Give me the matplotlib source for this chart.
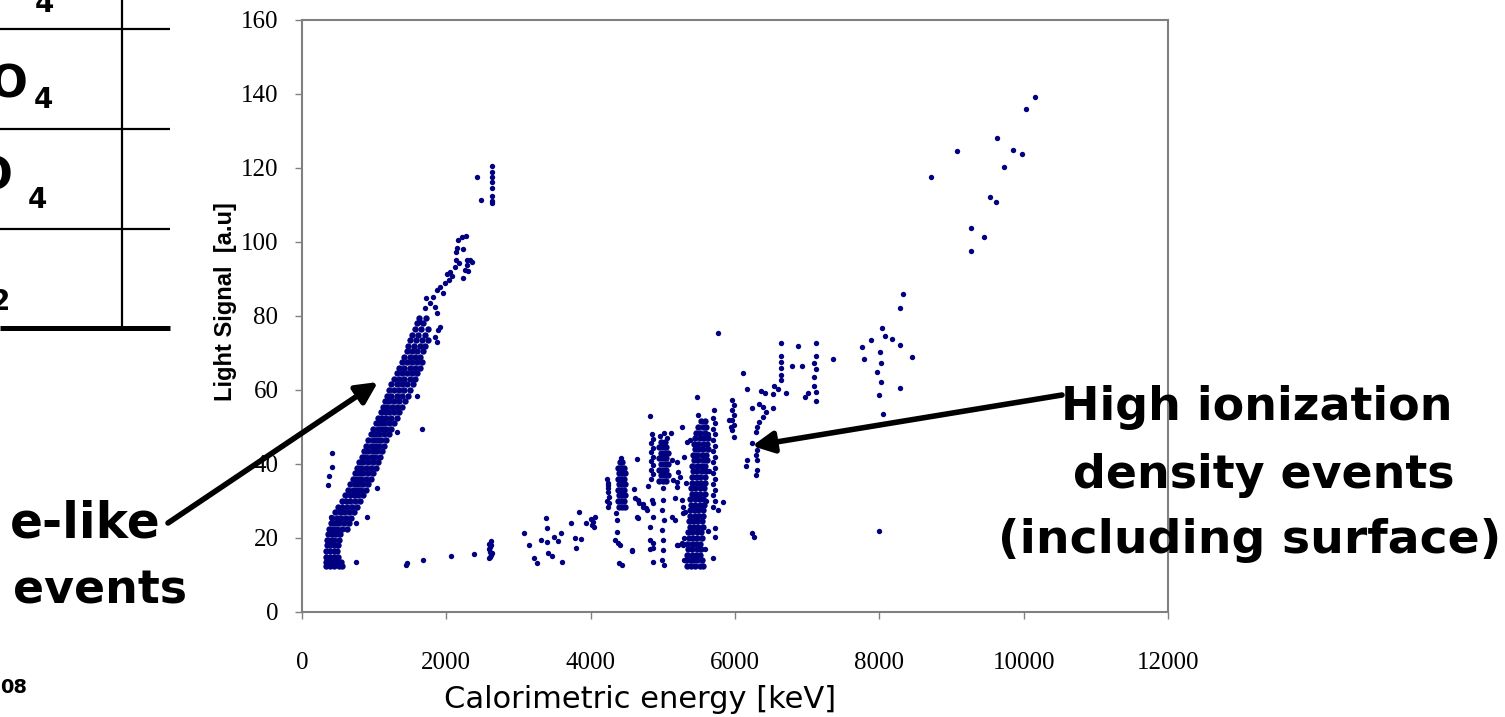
import matplotlib
matplotlib.use("Agg")
import matplotlib.pyplot as plt

# ---------------- data ----------------
x_ticks = [0, 2000, 4000, 6000, 8000, 10000, 12000]
y_ticks = [0, 20, 40, 60, 80, 100, 120, 140, 160]

# dense e-like band: light signal row -> energies
elike_rows_y = [12.5, 13.5, 15, 16.5, 18, 19.5, 21, 22.5, 24, 25.5, 27, 28.5, 30,
                31.5, 33, 34.5, 36, 37.5, 39, 40.5, 42, 43.5, 45, 46.5, 48, 49.5,
                51, 52.5, 54, 55.5, 57, 58.5, 60, 61.5, 63, 64.5, 66, 67.5, 69,
                70.5, 72, 73.5, 75, 76.5, 78, 79.5]
elike_rows_x = [
    [330, 390, 450, 510, 560], [330, 380, 430, 480, 540], [335, 385, 440, 500],
    [335, 385, 440, 490], [340, 390, 445, 500], [345, 395, 450, 510],
    [355, 410, 465, 530], [370, 430, 490, 560, 620], [395, 455, 515, 580, 650],
    [420, 480, 545, 610, 680], [460, 520, 585, 650, 720], [500, 560, 625, 690, 760],
    [550, 610, 670, 735, 800], [600, 660, 720, 780, 850], [640, 700, 760, 820, 890],
    [670, 730, 790, 850, 920], [700, 760, 820, 880, 950], [730, 790, 850, 915, 990],
    [760, 820, 880, 950, 1020], [790, 850, 910, 980, 1050], [830, 890, 950, 1010, 1080],
    [860, 920, 980, 1040, 1110], [890, 950, 1010, 1070, 1140], [920, 980, 1040, 1100, 1170],
    [950, 1010, 1070, 1130, 1200], [990, 1050, 1110, 1170, 1240], [1020, 1080, 1140, 1200, 1270],
    [1050, 1110, 1170, 1240, 1310], [1090, 1150, 1210, 1280, 1350], [1120, 1180, 1250, 1320, 1390],
    [1150, 1210, 1280, 1350, 1430], [1180, 1240, 1310, 1390, 1470], [1210, 1280, 1350, 1420, 1500],
    [1240, 1310, 1380, 1450, 1540], [1280, 1350, 1420, 1490, 1570], [1310, 1380, 1450, 1520, 1600],
    [1350, 1420, 1490, 1560, 1630], [1390, 1460, 1530, 1600, 1660], [1420, 1490, 1560, 1640],
    [1450, 1520, 1600, 1680], [1470, 1550, 1630, 1710], [1500, 1580, 1660, 1740],
    [1530, 1610, 1700], [1560, 1650, 1740], [1590, 1680], [1620, 1720]]

# sparse upper part of the e-like band and 2600 keV line
elike_top_x = [2273, 2218, 2162, 2148, 2231, 2134, 2287, 2328, 2134, 2176, 2287, 2259,
               2231, 2051, 2079, 2010, 2037, 1982, 1913, 1871, 1954, 1816, 1719, 1774,
               1705, 1843, 1871, 1636, 1885, 1843, 1871, 1913, 2356, 2301, 2120,
               2633, 2633, 2633, 2633, 2628, 2628, 2633, 2638, 2425, 2481]
elike_top_y = [101.6, 101.4, 100.5, 98.4, 98.1, 97.3, 95.1, 95.1, 95.1, 94.3, 93.8, 92.4,
               90.3, 91.9, 90.8, 91.4, 89.7, 88.9, 87.8, 87.0, 86.2, 85.1, 84.9, 83.5,
               82.2, 82.4, 80.8, 78.4, 76.2, 74.3, 73.0, 77.0, 94.6, 92.2, 93.2,
               120.5, 118.9, 117.6, 116.2, 114.6, 112.4, 111.1, 110.5, 117.6, 111.4]

# isolated points near the e-like band
elike_out_x = [416, 416, 374, 360, 405, 748, 748, 901, 1040, 1663, 1594, 1317, 1455,
               1441, 1677, 2065, 2384]
elike_out_y = [43.0, 39.2, 36.8, 34.3, 25.6, 13.5, 24.0, 25.7, 33.5, 49.5, 58.4, 48.6,
               13.2, 12.7, 14.1, 15.1, 15.7]

# small blob at 2600 keV
blob_x = [2585, 2600, 2615, 2630, 2590, 2610, 2625, 2595, 2620, 2605]
blob_y = [14.5, 15.0, 15.5, 16.0, 17.0, 17.5, 18.0, 18.5, 19.3, 16.3]

# sparse points 3000-4100 keV
mid_x = [3077, 3146, 3216, 3257, 3313, 3382, 3396, 3396, 3410, 3465, 3493, 3548, 3590,
         3604, 3728, 3784, 3798, 3839, 3867, 3936, 4005, 4033, 4061, 4019, 4047]
mid_y = [21.4, 18.1, 14.6, 13.2, 19.5, 25.4, 22.7, 18.9, 15.9, 15.1, 20.3, 19.2, 21.4,
         13.5, 24.1, 20.0, 17.3, 27.0, 19.7, 24.1, 25.1, 24.3, 25.7, 23.5, 23.0]

# column at 4240 keV
colb_x = [4240, 4230, 4250, 4235, 4245, 4240, 4230, 4250, 4240]
colb_y = [28.5, 30.0, 31.0, 32.5, 33.5, 35.0, 36.0, 29.5, 34.2]

# dense cluster near 4430 keV
colc_rows_y = [28.5, 30, 31.5, 33, 34.5, 36, 37.5, 39, 40.5]
colc_rows_x = [[4390, 4430, 4470], [4380, 4420, 4460], [4390, 4430, 4470],
               [4380, 4420, 4460], [4390, 4430, 4470], [4380, 4420, 4460],
               [4390, 4430, 4470], [4380, 4420, 4460], [4400, 4440]]
colc_extra_x = [4352, 4366, 4366, 4338, 4380, 4394, 4435, 4420, 4410,
                4602, 4615, 4643, 4643, 4574, 4671, 4726, 4768, 4726, 4823, 4657,
                4782, 4657, 4574]
colc_extra_y = [26.8, 24.9, 21.6, 19.5, 18.6, 13.2, 12.7, 41.5, 18.1,
                33.2, 30.8, 41.4, 25.7, 16.5, 29.5, 29.2, 28.1, 28.4, 53.0, 30.3,
                27.6, 25.4, 16.8]

# column at 4850 keV
cold_x = [4835, 4860, 4835, 4860, 4835, 4860, 4835, 4860, 4835, 4860, 4845,
          4795, 4865, 4823, 4865, 4823, 4865, 4851, 4865, 4823, 4865]
cold_y = [36.0, 37.2, 38.4, 39.6, 40.8, 42.0, 43.2, 44.4, 45.6, 46.8, 48.0,
          34.0, 29.5, 23.0, 18.6, 17.0, 13.5, 30.3, 25.7, 19.5, 17.3]

# dense cluster near 5000 keV
cole_rows_y = [35.5, 37, 38.5, 40, 41.5, 43, 44.5, 46]
cole_rows_x = [[4950, 5000, 5050], [4975, 5025, 5070], [4950, 5000, 5050],
               [4975, 5025, 5070], [4950, 5000, 5050], [4975, 5025, 5070],
               [4950, 5000, 5050], [4975, 5025]]
cole_extra_x = [4960, 5020, 5060, 5000, 4990, 5010, 4995, 5005, 5000, 4990, 5010, 5000,
                5128, 5142, 5170, 5128, 5115, 5198, 5239, 5198, 5281, 5170, 5267,
                5198, 5212, 5198, 5267, 5281, 5212, 5281, 5267, 5378]
cole_extra_y = [47.5, 48.4, 47.0, 30.3, 27.6, 24.9, 22.2, 19.5, 16.8, 14.1, 12.7, 33.5,
                41.1, 35.7, 30.8, 25.7, 48.4, 40.5, 36.5, 33.8, 28.4, 24.9, 18.6,
                18.1, 37.8, 35.1, 30.3, 26.8, 18.1, 18.1, 50.0, 46.5]

# big column near 5450 keV
colf_rows_y = [12.5, 14, 15.5, 17, 18.5, 20, 21.5, 23, 24.5, 26, 27.5, 29, 30.5, 32,
               33.5, 35, 36.5, 38, 39.5, 41, 42.5, 44, 45.5, 47, 48.5, 50, 51.5]
colf_rows_x = [
    [5330, 5390, 5450, 5510, 5560], [5320, 5370, 5420, 5480, 5540], [5340, 5400, 5460, 5520],
    [5350, 5410, 5470, 5530], [5340, 5400, 5460, 5520], [5360, 5420, 5480, 5540],
    [5350, 5410, 5470, 5530], [5370, 5430, 5490, 5550], [5360, 5420, 5480, 5540],
    [5380, 5440, 5500, 5560], [5370, 5430, 5490, 5550], [5390, 5450, 5510, 5570],
    [5380, 5440, 5500, 5560], [5400, 5460, 5520, 5580], [5390, 5450, 5510, 5570],
    [5410, 5470, 5530, 5590], [5400, 5460, 5520, 5580], [5420, 5480, 5540, 5600],
    [5410, 5470, 5530, 5590], [5430, 5490, 5550, 5610], [5420, 5480, 5540, 5600],
    [5440, 5500, 5560, 5620], [5430, 5490, 5550, 5610], [5450, 5510, 5570, 5620],
    [5460, 5520, 5580], [5490, 5550, 5600], [5530, 5590]]
colf_extra_x = [5300, 5310, 5320, 5600, 5620, 5580, 5290, 5475, 5489, 5630, 5640, 5300, 5330]
colf_extra_y = [20.0, 27.0, 35.0, 30.0, 22.0, 17.0, 14.0, 58.1, 53.2, 48.0, 38.0, 42.0, 46.0]

# column at 5700 keV
colg_x = [5695, 5720, 5695, 5720, 5695, 5720, 5695, 5720, 5695, 5720, 5695, 5720,
          5695, 5720, 5695, 5720, 5695, 5710, 5697, 5724, 5724, 5835, 5766]
colg_y = [28.5, 30.0, 31.5, 33.0, 34.5, 36.0, 37.5, 39.0, 40.5, 42.0, 43.5, 45.0,
          46.5, 48.0, 49.5, 51.0, 52.5, 54.5, 14.6, 20.3, 22.7, 29.7, 27.6]

# column at 5970 keV
colh_x = [5965, 5985, 5965, 5985, 5965, 5985, 5965, 5985, 5919, 5946]
colh_y = [57.3, 55.9, 54.6, 53.2, 51.9, 50.5, 49.2, 47.3, 51.9, 50.0]

# scattered 6000-7400 keV
hi_x = [5766, 6639, 6875, 7124, 7360, 6639, 6639, 6639, 6639, 6639, 6791, 6930, 7124,
        7096, 7124, 7096, 7096, 7124, 7124, 7013, 6972, 6112, 6168, 6362, 6417, 6528,
        6597, 6542, 6708, 6237, 6334, 6390, 6431, 6390, 6334, 6306, 6528, 6292, 6237,
        6306, 6292, 6306, 6168, 6154, 6306, 6292, 6237, 6265]
hi_y = [75.4, 72.7, 71.9, 72.7, 68.4, 69.2, 67.6, 65.9, 64.1, 62.7, 66.5, 66.5, 69.2,
        67.3, 65.7, 63.5, 61.1, 59.5, 57.0, 59.2, 58.1, 64.6, 60.3, 59.7, 59.2, 58.9,
        60.3, 61.1, 59.2, 55.1, 56.2, 55.4, 54.1, 52.7, 51.4, 50.0, 55.1, 48.6, 45.7,
        43.8, 42.4, 41.1, 41.1, 39.5, 38.4, 37.0, 21.4, 20.3]

# scattered 7700-10200 keV
top_x = [10160, 10035, 9633, 9855, 9979, 9078, 9730, 8718, 9536, 9619, 9272, 9452, 9272,
         8330, 8288, 8039, 8080, 8177, 7886, 7762, 8288, 8011, 7789, 8455, 8025, 7970,
         8025, 8288, 7997, 8053, 7997]
top_y = [139.2, 136.0, 128.0, 124.9, 123.8, 124.6, 120.3, 117.6, 112.2, 110.8, 103.8,
         101.4, 97.6, 86.0, 82.2, 76.8, 74.6, 73.8, 73.5, 71.6, 72.2, 70.3, 68.4, 68.9,
         67.3, 64.9, 62.2, 60.5, 58.6, 53.5, 21.9]


def rows_to_xy(rows_y, rows_x):
    xs, ys = [], []
    for yv, row in zip(rows_y, rows_x):
        for xv in row:
            xs.append(xv)
            ys.append(yv)
    return xs, ys


dense_x, dense_y = [], []
for rx, ry in [rows_to_xy(elike_rows_y, elike_rows_x),
               rows_to_xy(colc_rows_y, colc_rows_x),
               rows_to_xy(cole_rows_y, cole_rows_x),
               rows_to_xy(colf_rows_y, colf_rows_x)]:
    dense_x += list(rx)
    dense_y += list(ry)

sparse_x, sparse_y = [], []
for rx, ry in [(elike_top_x, elike_top_y), (elike_out_x, elike_out_y),
               (blob_x, blob_y), (mid_x, mid_y), (colb_x, colb_y),
               (colc_extra_x, colc_extra_y), (cold_x, cold_y),
               (cole_extra_x, cole_extra_y), (colf_extra_x, colf_extra_y),
               (colg_x, colg_y), (colh_x, colh_y), (hi_x, hi_y), (top_x, top_y)]:
    sparse_x += list(rx)
    sparse_y += list(ry)

# ---------------- figure ----------------
W, H = 1505, 717
fig = plt.figure(figsize=(W / 100, H / 100), dpi=100)
fig.patch.set_facecolor("white")

ax = fig.add_axes([302 / W, 1 - 612 / H, (1168 - 302) / W, (612 - 20) / H])
ax.scatter(dense_x, dense_y, s=21, color="#000080", linewidths=0, zorder=3)
ax.scatter(sparse_x, sparse_y, s=15, color="#000080", linewidths=0, zorder=3)
ax.set_xlim(0, 12000)
ax.set_ylim(0, 160)
ax.set_xticks(x_ticks)
ax.set_yticks(y_ticks)
ax.set_xticklabels([str(v) for v in x_ticks], fontfamily="Liberation Serif", fontsize=18)
ax.set_yticklabels([str(v) for v in y_ticks], fontfamily="Liberation Serif", fontsize=18)
ax.tick_params(axis="x", direction="out", length=5, width=1, color="#808080", pad=24)
ax.tick_params(axis="y", direction="out", length=5, width=1, color="#808080", pad=12)
for sp in ax.spines.values():
    sp.set_color("#808080")
    sp.set_linewidth(1.5)

fig.text(226 / W, 1 - 302 / H, "Light Signal  [a.u]", rotation=90, ha="center",
         va="center", fontfamily="Liberation Sans", fontweight="bold", fontsize=17)
fig.text(640 / W, 1 - 699 / H, "Calorimetric energy [keV]", ha="center", va="center",
         fontfamily="DejaVu Sans", fontsize=22)

# ---------------- slide overlay (pixel coordinates) ----------------
ov = fig.add_axes([0, 0, 1, 1], zorder=10)
ov.set_xlim(0, W)
ov.set_ylim(H, 0)
ov.axis("off")
ov.patch.set_alpha(0)

# partial table at the left
for yy in [29, 129, 229]:
    ov.plot([0, 170], [yy, yy], color="black", lw=1.6, solid_capstyle="butt")
ov.plot([0, 170], [328, 328], color="black", lw=3.6, solid_capstyle="butt")
ov.plot([122, 122], [0, 328], color="black", lw=1.6, solid_capstyle="butt")

bold = dict(fontfamily="DejaVu Sans", fontweight="bold", color="black")
ov.text(44, 12, "4", ha="center", va="baseline", fontsize=20, **bold)
ov.text(28, 98, "O", ha="right", va="baseline", fontsize=32, **bold)
ov.text(43, 108, "4", ha="center", va="baseline", fontsize=20, **bold)
ov.text(13, 190, "O", ha="right", va="baseline", fontsize=32, **bold)
ov.text(37, 208, "4", ha="center", va="baseline", fontsize=20, **bold)
ov.text(10, 310, "2", ha="right", va="baseline", fontsize=20, **bold)
ov.text(0, 693, "08", ha="left", va="baseline", fontsize=14, **bold)

# annotations
ov.text(10, 538, "e-like", ha="left", va="baseline", fontsize=35, **bold)
ov.text(13, 603, "events", ha="left", va="baseline", fontsize=33, **bold)
ov.annotate("", xy=(378, 382), xytext=(168, 523),
            arrowprops=dict(arrowstyle="-|>", lw=4, color="black", mutation_scale=32,
                            shrinkA=0, shrinkB=0))
ov.text(1257, 420, "High ionization", ha="center", va="baseline", fontsize=33, **bold)
ov.text(1264, 488, "density events", ha="center", va="baseline", fontsize=33, **bold)
ov.text(1250, 553, "(including surface)", ha="center", va="baseline", fontsize=34, **bold)
ov.annotate("", xy=(752, 446), xytext=(1062, 395),
            arrowprops=dict(arrowstyle="-|>", lw=4, color="black", mutation_scale=32,
                            shrinkA=0, shrinkB=0))

fig.savefig("out.png", dpi=100, facecolor="white")
